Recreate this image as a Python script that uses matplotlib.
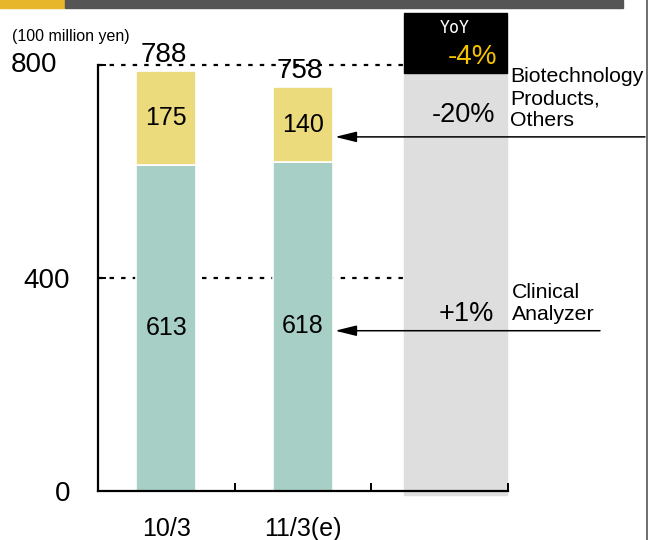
import matplotlib
matplotlib.use("Agg")
import matplotlib.pyplot as plt
from matplotlib.patches import Rectangle
from matplotlib.transforms import blended_transform_factory
from matplotlib.patches import ArrowStyle

plt.rcParams['font.family'] = ['Liberation Sans', 'DejaVu Sans']

# Sales by segment (100 million yen)
periods = ["10/3", "11/3(e)"]
clinical = [613, 618]
biotech = [175, 140]
totals = [788, 758]
yoy_total = "-4%"
yoy_biotech = "-20%"
yoy_clinical = "+1%"
segment_names = ["Biotechnology\nProducts,\nOthers", "Clinical\nAnalyzer"]
y_ticks = [0, 400, 800]

TEAL = "#a7cfc6"
YELLOW = "#ecdb7c"
GRAY_COL = "#dedede"
GOLD = "#f5c300"

W, H = 648, 540
fig = plt.figure(figsize=(W / 100, H / 100), dpi=100)

def fx(px):
    return px / W

def fy(py):
    return 1 - py / H

# header strip and right border
fig.patches.append(Rectangle((0, fy(7.5)), fx(65), 7.5 / H, transform=fig.transFigure,
                             color="#e8b62a", zorder=0))
fig.patches.append(Rectangle((fx(65), fy(7.5)), fx(623 - 65), 7.5 / H, transform=fig.transFigure,
                             color="#555555", zorder=0))
fig.lines.append(plt.Line2D([fx(646.5), fx(646.5)], [0, 1], transform=fig.transFigure,
                            color="#555555", lw=1.2))

ax_left, ax_right, ax_bottom, ax_top = 98, 508, 491, 13
ax = fig.add_axes([fx(ax_left), fy(ax_bottom), fx(ax_right - ax_left), (ax_bottom - ax_top) / H])
px_per_unit = 426 / 800
ax.set_xlim(0, 3)
ax.set_ylim(0, (ax_bottom - ax_top) / px_per_unit)

x = [0.5, 1.5]
bw = 0.44
ax.bar(x, clinical, width=bw, color=TEAL, edgecolor="white", linewidth=1.2, zorder=3)
ax.bar(x, biotech, width=bw, bottom=clinical, color=YELLOW, edgecolor="white",
       linewidth=1.2, zorder=3)

for xi, c, b, t in zip(x, clinical, biotech, totals):
    ax.text(xi, c / 2, f"{c}", ha="center", va="center", fontsize=18, zorder=5)
    ax.text(xi, c + b / 2, f"{b}", ha="center", va="center", fontsize=18, zorder=5)
    ax.annotate(f"{t}", xy=(xi - 0.02, c + b), xytext=(0, 2.5), textcoords="offset points",
                ha="center", va="bottom", fontsize=20, zorder=5)

# YoY column
col_x0, col_x1 = 2.238, 2.99
box_y = 785
ax.add_patch(Rectangle((col_x0, -8), col_x1 - col_x0, box_y + 8, color=GRAY_COL,
                       clip_on=False, zorder=1))
ax.add_patch(Rectangle((col_x0, box_y), col_x1 - col_x0, ax.get_ylim()[1] - box_y,
                       color="black", clip_on=False, zorder=1))

# dotted reference lines
for yv in [400, 800]:
    ax.plot([0, col_x0], [yv, yv], color="black", lw=1.6, linestyle=(0, (2, 3.2)), zorder=2,
            clip_on=False)

# axes styling
for s in ["top", "right"]:
    ax.spines[s].set_visible(False)
ax.spines["left"].set_bounds(0, 800)
ax.spines["left"].set_linewidth(1.6)
ax.spines["bottom"].set_linewidth(1.6)
ax.spines["left"].set_zorder(4)
ax.spines["bottom"].set_zorder(4)
ax.set_yticks(y_ticks)
ax.set_yticklabels([str(v) if v != 800 else "" for v in y_ticks])
ax.tick_params(axis="y", direction="in", length=6, width=1.4, labelsize=20, pad=20)
ax.text(-41 / 410, 800, "800", ha="right", va="center", fontsize=20,
        transform=blended_transform_factory(ax.transAxes, ax.transData))
ax.set_xticks([0, 1, 2, 3])
ax.set_xticklabels([])
ax.set_xticks(x, minor=True)
ax.set_xticklabels(periods, minor=True)
ax.tick_params(axis="x", which="major", direction="in", length=6, width=1.4)
ax.tick_params(axis="x", which="minor", length=0, labelsize=18, pad=19)

# units
fig.text(fx(12), fy(37), "(100 million yen)", fontsize=11.5, ha="left", va="center")

# YoY box text
fig.text(fx(455), fy(28), "YoY", fontsize=12, color="white", ha="center", va="center",
         family="DejaVu Sans Mono")
fig.text(fx(497), fy(57), yoy_total, fontsize=20, color=GOLD, ha="right", va="center")
fig.text(fx(495), fy(115), yoy_biotech, fontsize=19.5, ha="right", va="center")
fig.text(fx(494), fy(314), yoy_clinical, fontsize=19.5, ha="right", va="center")

fig.text(fx(510), fy(99), segment_names[0], fontsize=15.3, ha="left", va="center",
         linespacing=1.2)
fig.text(fx(512), fy(304), segment_names[1], fontsize=15.3, ha="left", va="center",
         linespacing=1.2)

# arrows from segment names to the forecast bar
arrow = ArrowStyle("-|>", head_length=1.3, head_width=0.32)
bt = blended_transform_factory(fig.transFigure, ax.transData)
for yv, x_end in [(665, 645), (301, 600)]:
    ax.annotate("", xy=(1.735, yv), xycoords="data", xytext=(fx(x_end), yv), textcoords=bt,
                arrowprops=dict(arrowstyle=arrow, mutation_scale=10, lw=1.1, color="black",
                                shrinkA=0, shrinkB=0), annotation_clip=False, zorder=6)

fig.savefig("out.png", dpi=100)
